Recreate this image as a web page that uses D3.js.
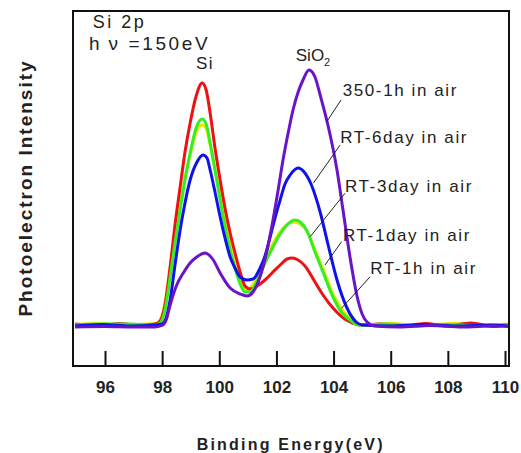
<!DOCTYPE html>
<html>
<head>
<meta charset="utf-8">
<script src="https://cdn.jsdelivr.net/npm/d3@7"></script>
<style>
  body { margin: 0; background: #fff; }
  text { font-family: "Liberation Sans", Arial, sans-serif; fill: #222; }
</style>
</head>
<body>
<svg id="chart"></svg>
<script>
// binding energy (eV), intensity (arb. units)
const rt1h = [[94.95,4],[95.8,-4],[96.5,6],[97.2,-2],[97.75,4],[97.93,16],[98.10,80],[98.28,232],[98.45,400],[98.63,552],[98.80,692],[98.98,808],[99.19,916],[99.40,968],[99.54,940],[99.68,848],[99.85,708],[100.03,580],[100.20,468],[100.38,368],[100.55,288],[100.73,212],[100.90,156],[101.08,144],[101.32,156],[101.60,180],[101.88,212],[102.13,240],[102.37,264],[102.55,268],[102.76,260],[103.00,236],[103.35,172],[103.63,120],[103.98,68],[104.30,32],[104.58,12],[104.93,0],[105.6,4],[106.4,-6],[107.2,6],[108.0,-4],[108.8,8],[109.6,-6],[110.1,2]];
const rt1day = [[94.95,2],[95.8,6],[96.6,-2],[97.4,4],[97.8,6],[97.93,20],[98.10,90],[98.28,230],[98.45,360],[98.63,480],[98.80,590],[98.98,680],[99.19,770],[99.40,800],[99.54,786],[99.68,720],[99.85,620],[100.03,520],[100.20,416],[100.38,320],[100.55,244],[100.73,180],[100.97,140],[101.32,190],[101.60,262],[101.88,326],[102.13,372],[102.37,402],[102.60,412],[102.83,404],[103.07,376],[103.35,300],[103.63,224],[103.98,124],[104.30,60],[104.58,28],[104.86,8],[105.10,0],[106.0,6],[107.0,-2],[108.2,6],[109.4,0],[110.1,4]];
const rt3day = [[94.95,0],[95.9,4],[96.88,4],[97.75,0],[97.93,8],[98.10,60],[98.28,192],[98.45,328],[98.63,460],[98.80,580],[98.98,688],[99.19,788],[99.40,824],[99.54,804],[99.68,728],[99.85,620],[100.03,500],[100.20,396],[100.38,300],[100.55,228],[100.73,164],[100.90,132],[101.08,132],[101.32,176],[101.60,248],[101.88,312],[102.13,364],[102.37,400],[102.65,420],[102.83,412],[103.07,376],[103.35,292],[103.63,212],[103.98,112],[104.30,48],[104.58,20],[104.86,0],[105.8,4],[106.8,-4],[107.9,2],[109.0,-2],[110.1,2]];
const rt6day = [[94.95,-4],[95.9,2],[96.9,-4],[97.75,0],[98.00,4],[98.14,28],[98.28,100],[98.45,240],[98.63,380],[98.80,488],[98.98,580],[99.22,652],[99.43,680],[99.57,668],[99.68,620],[99.85,532],[100.03,432],[100.20,348],[100.38,272],[100.55,228],[100.73,192],[100.97,180],[101.18,184],[101.43,228],[101.60,276],[101.78,352],[101.95,428],[102.13,500],[102.30,564],[102.48,600],[102.76,628],[102.97,612],[103.21,564],[103.53,452],[103.81,320],[104.12,180],[104.47,68],[104.79,12],[105.00,0],[106.0,-4],[107.1,2],[108.3,-4],[109.5,0],[110.1,-4]];
const c350 = [[94.95,-8],[96.0,-6],[97.0,-8],[97.75,-8],[98.03,0],[98.14,20],[98.28,80],[98.51,160],[98.74,208],[98.98,248],[99.21,272],[99.50,288],[99.79,260],[100.03,208],[100.38,148],[100.73,124],[100.97,116],[101.18,132],[101.53,232],[101.71,320],[101.88,420],[102.06,540],[102.23,660],[102.41,768],[102.58,860],[102.76,932],[102.93,980],[103.14,1020],[103.35,992],[103.53,920],[103.81,796],[104.12,620],[104.33,460],[104.58,268],[104.82,116],[105.00,44],[105.17,12],[105.45,-4],[106.3,-8],[107.4,-2],[108.5,-8],[109.6,-4],[110.1,-6]];

const seriesNames = ["RT-1day in air", "RT-1h in air", "RT-3day in air", "RT-6day in air", "350-1h in air"];
const seriesData = [rt1day, rt1h, rt3day, rt6day, c350];
const seriesColors = ["#e8e800", "#ee1111", "#33ee22", "#1111ee", "#6a14c8"];

// label anchor [eV, intensity] and leader line [from, to]
const labelPos = {
  "350-1h in air": [104.32, 940],
  "RT-6day in air": [104.23, 752],
  "RT-3day in air": [104.40, 556],
  "RT-1day in air": [104.33, 360],
  "RT-1h in air": [105.28, 228]
};
const leaders = {
  "350-1h in air": [[104.26, 900], [103.76, 813]],
  "RT-6day in air": [[104.23, 720], [103.29, 567]],
  "RT-3day in air": [[104.40, 527], [103.18, 353]],
  "RT-1day in air": [[104.28, 333], [103.70, 240]],
  "RT-1h in air": [[105.28, 193], [104.28, 67]]
};

const xTicks = [96, 98, 100, 102, 104, 106, 108, 110];

const W = 521, H = 453;
const margin = { top: 11, right: 12, bottom: 87, left: 73 };
const width = W - margin.left - margin.right,
      height = H - margin.top - margin.bottom;

const svg = d3.select("#chart").attr("width", W).attr("height", H);
const g = svg.append("g").attr("transform", `translate(${margin.left},${margin.top})`);

const x = d3.scaleLinear().domain([94.88, 110.14]).range([0, width]);
const y = d3.scaleLinear().domain([-164, 1256]).range([height, 0]);

// curves
const line = d3.line()
  .x(d => x(d[0]))
  .y(d => y(d[1]))
  .curve(d3.curveMonotoneX);

seriesData.forEach((s, i) => {
  g.append("path")
    .datum(s)
    .attr("fill", "none")
    .attr("stroke", seriesColors[i])
    .attr("stroke-width", 3)
    .attr("stroke-linejoin", "round")
    .attr("d", line);
});

// x axis, ticks pointing inward
const xAxis = g.append("g")
  .attr("transform", `translate(0,${height})`)
  .call(d3.axisBottom(x).tickValues(xTicks).tickSize(-15).tickPadding(15).tickFormat(d3.format("d")));
xAxis.select(".domain").remove();
xAxis.selectAll(".tick line").attr("stroke", "#111").attr("stroke-width", 2);
xAxis.selectAll("text")
  .style("font-size", "17px")
  .style("font-weight", "bold")
  .attr("fill", "#222");

// frame
g.append("rect")
  .attr("width", width)
  .attr("height", height)
  .attr("fill", "none")
  .attr("stroke", "#111")
  .attr("stroke-width", 2);

// leader lines and labels
seriesNames.forEach(name => {
  const l = leaders[name];
  g.append("line")
    .attr("x1", x(l[0][0])).attr("y1", y(l[0][1]))
    .attr("x2", x(l[1][0])).attr("y2", y(l[1][1]))
    .attr("stroke", "#222")
    .attr("stroke-width", 1);
  const p = labelPos[name];
  g.append("text")
    .attr("x", x(p[0]))
    .attr("y", y(p[1]))
    .attr("dy", "0.36em")
    .style("font-size", "17px")
    .style("letter-spacing", "1.6px")
    .text(name);
});

// peak labels
g.append("text")
  .attr("x", x(99.5)).attr("y", y(1048)).attr("dy", "0.36em")
  .attr("text-anchor", "middle")
  .style("font-size", "17px").style("letter-spacing", "1.5px")
  .text("Si");

const sio2 = g.append("text")
  .attr("x", x(103.28)).attr("y", y(1080)).attr("dy", "0.36em")
  .attr("text-anchor", "middle")
  .style("font-size", "17px");
sio2.append("tspan").text("SiO");
sio2.append("tspan").attr("dy", "5").style("font-size", "11px").text("2");

g.append("text")
  .attr("x", x(95.57)).attr("y", y(1212)).attr("dy", "0.36em")
  .style("font-size", "18px").style("letter-spacing", "2.5px")
  .text("Si 2p");
g.append("text")
  .attr("x", x(95.44)).attr("y", y(1126)).attr("dy", "0.36em")
  .style("font-size", "19px").style("letter-spacing", "2.6px")
  .text("h\u2009\u03BD =150eV");

// axis titles
svg.append("text")
  .attr("x", margin.left + x(102.5))
  .attr("y", 444)
  .attr("dy", "0.36em")
  .attr("text-anchor", "middle")
  .style("font-size", "16px")
  .style("font-weight", "bold")
  .style("letter-spacing", "2.2px")
  .text("Binding Energy(eV)");

svg.append("text")
  .attr("transform", `translate(25,188)rotate(-90)`)
  .attr("text-anchor", "middle")
  .attr("dy", "0.36em")
  .style("font-size", "19px")
  .style("font-weight", "bold")
  .style("letter-spacing", "2px")
  .attr("fill", "#333")
  .text("Photoelectron Intensity");
</script>
</body>
</html>
